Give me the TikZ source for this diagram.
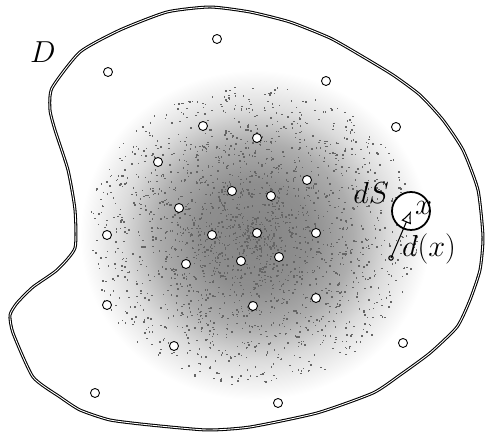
\documentclass[tikz,border=0pt]{standalone}
\usepackage{amsmath,amssymb}
\usetikzlibrary{arrows.meta,positioning,calc}
\pgfdeclareradialshading{cloudshade}{\pgfpoint{0bp}{0bp}}{color(0bp)=(black!48); color(8bp)=(black!44); color(14bp)=(black!32); color(19bp)=(black!14); color(25bp)=(white); color(50bp)=(white)}

\begin{document}
\begin{tikzpicture}[x=0.02cm,y=-0.02cm,>=Latex,
  pt/.style={circle,draw,line width=0.5pt,fill=white,inner sep=0pt,minimum size=0.18cm},
  lbl/.style={inner sep=1pt,font=\fontsize{17}{20}\selectfont}]
\useasboundingbox (0,0) rectangle (485,435);
% density cloud
\shade[shading=cloudshade] (255,235) ellipse (175 and 165);
\pgfmathsetseed{11}
\foreach \i in {1,...,2200}{
  \pgfmathsetmacro{\a}{360*rnd}
  \pgfmathsetmacro{\r}{rnd^0.75}
  \pgfmathsetmacro{\cx}{252+165*\r*cos(\a)}
  \pgfmathsetmacro{\cy}{235+150*\r*sin(\a)}
  \fill[black!60] (\cx,\cy) rectangle ++(1.5,1.5);
}
% region D
\draw[line width=0.6pt,double=white,double distance=0.5pt] plot[smooth cycle,tension=0.35] coordinates {
  (52,88) (80,52) (120,30) (167,12) (210,7) (250,12) (290,22) (330,38)
  (360,55) (393,75) (420,95) (443,120) (463,150) (478,190) (483,237)
  (480,270) (470,300) (457,327) (430,353) (400,375) (373,393) (317,413)
  (250,427) (207,430) (150,425) (110,420) (80,410) (60,397) (33,377)
  (13,333) (10,315) (17,303) (33,287) (57,270) (75,248) (75,210)
  (68,170) (55,130) (50,110)};
\node[lbl] (D) at (43,52) {$D$};
% sample points
\foreach \px/\py [count=\k] in {217/39,108/72,326/81,396/127,107/235,107/305,
  174/346,95/393,403/343,278/403,203/126,257/138,158/162,307/180,232/191,
  271/196,179/208,212/235,257/233,316/233,186/264,241/261,279/257,316/298,253/306}{
  \node[pt] (p\k) at (\px,\py) {};
}
% element dS around x
\node[circle,draw,line width=1pt,fill=white,minimum size=0.76cm,inner sep=0pt] (ball) at (411,211) {};
\node[lbl,anchor=south west] (x) at (413,217) {$x$};
\node[lbl,anchor=east] (dS) at (391,193) {$dS$};
\node[lbl] (dx) at (429,249) {$d(x)$};
\coordinate (tail) at (391,258);
\draw[line width=0.6pt] (tail) circle (2.2);
\draw[line width=0.6pt,-{Latex[open,length=7pt,width=6pt]}] (tail) -- (ball.center);
\end{tikzpicture}
\end{document}
